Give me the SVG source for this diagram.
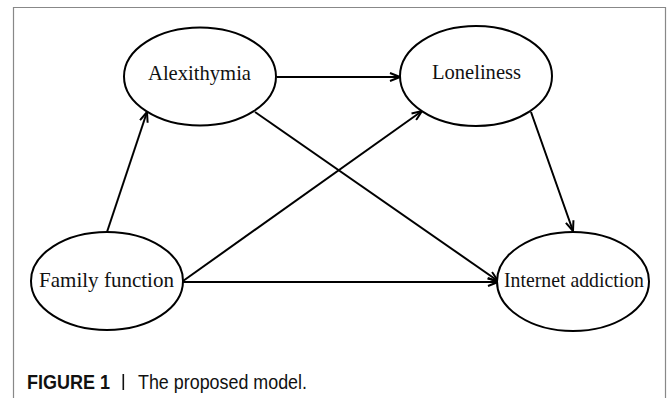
<svg xmlns="http://www.w3.org/2000/svg" width="669" height="398" viewBox="0 0 669 398">
<style>
.node ellipse{fill:#fff;stroke:#000;stroke-width:2}
.node text{font-family:"Liberation Serif","Times New Roman",serif;font-size:22px;fill:#111}
.edge{stroke:#000;stroke-width:2;fill:none;marker-end:url(#ah)}
.cap{font-family:"Liberation Sans",Arial,sans-serif;font-size:19.5px;fill:#111}
</style>
<defs>
<marker id="ah" viewBox="0 0 12 10" refX="11" refY="5" markerWidth="12" markerHeight="10" markerUnits="userSpaceOnUse" orient="auto">
<path d="M1,1 L11,5 L1,9" fill="none" stroke="#000" stroke-width="2"/>
</marker>
</defs>
<rect x="0" y="0" width="669" height="398" fill="#fff"/>
<path d="M13.5,400 V7.5 H665.5 V400" fill="none" stroke="#888" stroke-width="1.2"/>
<g id="connectors">
<line class="edge" x1="277" y1="77" x2="400" y2="77"/>
<line class="edge" x1="107" y1="232" x2="147" y2="112"/>
<line class="edge" x1="255" y1="112" x2="498" y2="281"/>
<line class="edge" x1="183" y1="281" x2="422" y2="111"/>
<line class="edge" x1="183" y1="282" x2="498" y2="282"/>
<line class="edge" x1="531" y1="112" x2="573" y2="231"/>
</g>
<g id="alexithymia" class="node">
<ellipse cx="200" cy="76.5" rx="76" ry="49"/>
<text x="148" y="80" textLength="103" lengthAdjust="spacingAndGlyphs">Alexithymia</text>
</g>
<g id="loneliness" class="node">
<ellipse cx="476" cy="76" rx="76" ry="50"/>
<text x="432" y="79" textLength="89" lengthAdjust="spacingAndGlyphs">Loneliness</text>
</g>
<g id="family" class="node">
<ellipse cx="107" cy="281" rx="76" ry="49"/>
<text x="39" y="287" textLength="135" lengthAdjust="spacingAndGlyphs">Family  function</text>
</g>
<g id="internet" class="node">
<ellipse cx="573" cy="281.5" rx="76" ry="49.5"/>
<text x="504" y="287" textLength="140" lengthAdjust="spacingAndGlyphs">Internet addiction</text>
</g>
<g id="caption">
<text class="cap" x="27" y="389" font-weight="bold" textLength="83" lengthAdjust="spacingAndGlyphs">FIGURE 1</text>
<rect x="122.5" y="374" width="1.6" height="16" fill="#111"/>
<text class="cap" x="138" y="389" textLength="169" lengthAdjust="spacingAndGlyphs">The proposed model.</text>
</g>
</svg>
